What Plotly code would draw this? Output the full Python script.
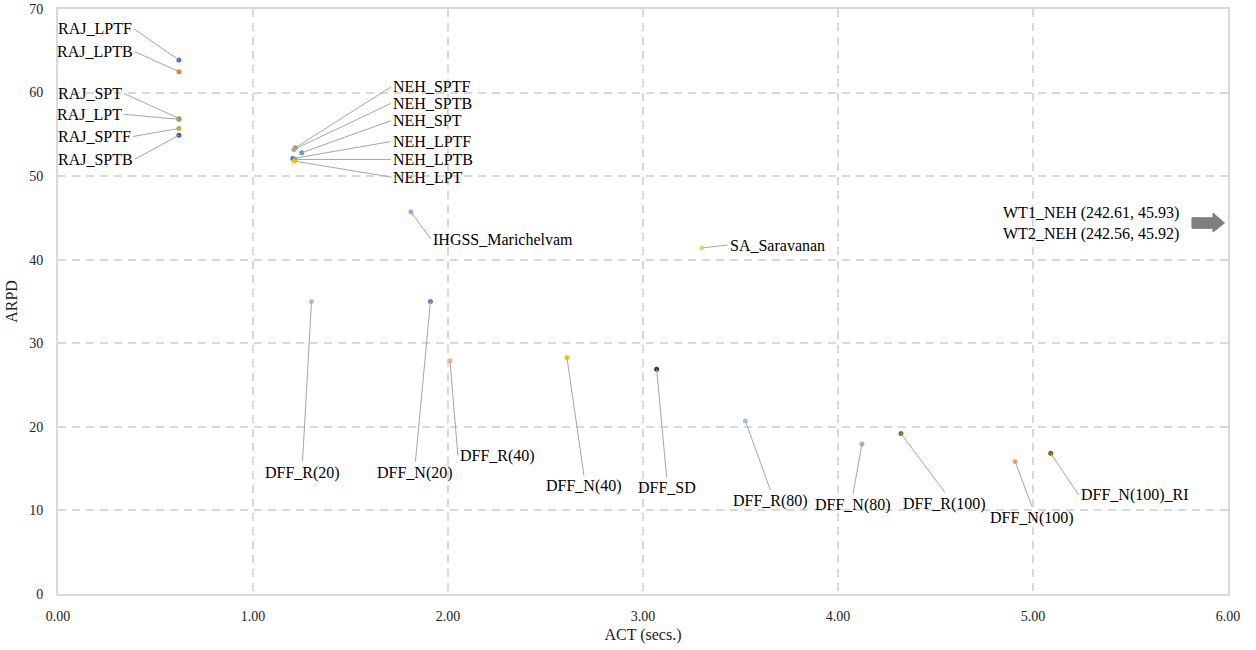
import plotly.graph_objects as go

# ---------------- data ----------------
labels = [
    "RAJ_LPTF", "RAJ_LPTB", "RAJ_SPT", "RAJ_LPT", "RAJ_SPTF", "RAJ_SPTB",
    "NEH_SPTF", "NEH_SPTB", "NEH_SPT", "NEH_LPTF", "NEH_LPTB", "NEH_LPT",
    "IHGSS_Marichelvam", "SA_Saravanan",
    "DFF_R(20)", "DFF_N(20)", "DFF_R(40)", "DFF_N(40)", "DFF_SD",
    "DFF_R(80)", "DFF_N(80)", "DFF_R(100)", "DFF_N(100)", "DFF_N(100)_RI",
]
act = [
    0.62, 0.62, 0.62, 0.62, 0.62, 0.62,
    1.217, 1.210, 1.250, 1.204, 1.215, 1.212,
    1.81, 3.30,
    1.30, 1.91, 2.01, 2.61, 3.07,
    3.525, 4.123, 4.323, 4.908, 5.091,
]
arpd = [
    63.9, 62.5, 56.9, 56.8, 55.7, 54.9,
    53.4, 53.2, 52.8, 52.1, 52.0, 51.8,
    45.7, 41.4,
    35.0, 35.0, 27.9, 28.3, 26.9,
    20.7, 17.95, 19.2, 15.85, 16.85,
]
offscale_text = ["WT1_NEH (242.61, 45.93)", "WT2_NEH (242.56, 45.92)"]
x_ticks = [0, 1, 2, 3, 4, 5, 6]
y_ticks = [0, 10, 20, 30, 40, 50, 60, 70]

# ---------------- styles ----------------
colors = [
    "#4472C4", "#ED7D31", "#A5A5A5", "#70AD47", "#D4A82A", "#3A5FA8",
    "#ED7D31", "#A5A5A5", "#5B9BD5", "#4472C4", "#70AD47", "#FFC000",
    "#8FAADC", "#FFD966",
    "#BFBFBF", "#5B84D0", "#F4B183", "#FFC000", "#203864",
    "#9DC3E6", "#B0B0B0", "#548235", "#F4A46A", "#7F6000",
]
# label placement: (ax px, ay px, xanchor, yanchor)
label_pos = {
    "RAJ_LPTF": (-45, -31, "right", "middle"),
    "RAJ_LPTB": (-44, -20, "right", "middle"),
    "RAJ_SPT": (-55, -25, "right", "middle"),
    "RAJ_LPT": (-55, -5, "right", "middle"),
    "RAJ_SPTF": (-46, 8, "right", "middle"),
    "RAJ_SPTB": (-44, 24, "right", "middle"),
    "NEH_SPTF": (96, -61, "left", "middle"),
    "NEH_SPTB": (97, -46, "left", "middle"),
    "NEH_SPT": (89, -32, "left", "middle"),
    "NEH_LPTF": (98, -17, "left", "middle"),
    "NEH_LPTB": (96, 0, "left", "middle"),
    "NEH_LPT": (97, 16, "left", "middle"),
    "IHGSS_Marichelvam": (20, 27, "left", "middle"),
    "SA_Saravanan": (26, -3, "left", "middle"),
    "DFF_R(20)": (-9, 160, "center", "top"),
    "DFF_N(20)": (-15, 160, "center", "top"),
    "DFF_R(40)": (8, 95, "left", "middle"),
    "DFF_N(40)": (17, 118, "center", "top"),
    "DFF_SD": (10, 108, "center", "top"),
    "DFF_R(80)": (25, 69, "center", "top"),
    "DFF_N(80)": (-9, 50, "center", "top"),
    "DFF_R(100)": (44, 59, "center", "top"),
    "DFF_N(100)": (17, 45, "center", "top"),
    "DFF_N(100)_RI": (28, 42, "left", "middle"),
}

FONT = "Liberation Serif"
GRID = "#D9D9D9"

fig = go.Figure(
    go.Scatter(
        x=act, y=arpd, mode="markers",
        marker=dict(color=colors, size=5, line=dict(width=0)),
        text=labels, hoverinfo="text+x+y", showlegend=False,
    )
)

annotations = []
for lab, xv, yv in zip(labels, act, arpd):
    ax, ay, xa, ya = label_pos[lab]
    annotations.append(dict(
        x=xv, y=yv, xref="x", yref="y", text=lab,
        showarrow=True, arrowhead=0, arrowwidth=1, arrowcolor="#A6A6A6",
        ax=ax, ay=ay, xanchor=xa, yanchor=ya, standoff=0,
        font=dict(family=FONT, size=16, color="#000000"),
    ))

annotations.append(dict(
    x=0.8829, y=0.634, xref="paper", yref="paper",
    text="<br>".join(offscale_text), showarrow=False,
    xanchor="center", yanchor="middle", align="center",
    font=dict(family=FONT, size=16, color="#000000"),
))

# block arrow pointing to off-scale points (paper coords)
shape_path = ("M 0.9692 0.6432 L 0.9872 0.6432 L 0.9872 0.6513 "
              "L 0.99701 0.6342 L 0.9872 0.6188 L 0.9872 0.6251 "
              "L 0.9692 0.6251 Z")
fig.add_shape(type="path", path=shape_path, xref="paper", yref="paper",
              fillcolor="#7F7F7F", line=dict(color="#7F7F7F", width=1))

fig.update_layout(
    width=1256, height=650,
    margin=dict(l=58, r=28, t=9, b=56),
    paper_bgcolor="white", plot_bgcolor="white",
    font=dict(family=FONT, size=14, color="#222222"),
    annotations=annotations,
    showlegend=False,
)
fig.update_xaxes(
    range=[0, 6], tickvals=x_ticks, tickformat=".2f", automargin=False,
    showgrid=True, gridcolor=GRID, gridwidth=2, griddash="8px,6px",
    showline=True, linecolor=GRID, linewidth=2, mirror=True,
    zeroline=False, ticks="outside", ticklen=8, tickcolor="rgba(0,0,0,0)",
    tickfont=dict(family=FONT, size=14, color="#222222"),
    title=dict(text="ACT (secs.)", font=dict(family=FONT, size=16, color="#222222"), standoff=6),
)
fig.update_yaxes(
    range=[0, 70], tickvals=y_ticks, automargin=False,
    showgrid=True, gridcolor=GRID, gridwidth=2, griddash="8px,6px",
    showline=True, linecolor=GRID, linewidth=2, mirror=True,
    zeroline=False, ticks="outside", ticklen=10, tickcolor="rgba(0,0,0,0)",
    tickfont=dict(family=FONT, size=14, color="#222222"),
    title=dict(text="ARPD", font=dict(family=FONT, size=16, color="#222222"), standoff=8),
)

fig.write_html("out.html")
